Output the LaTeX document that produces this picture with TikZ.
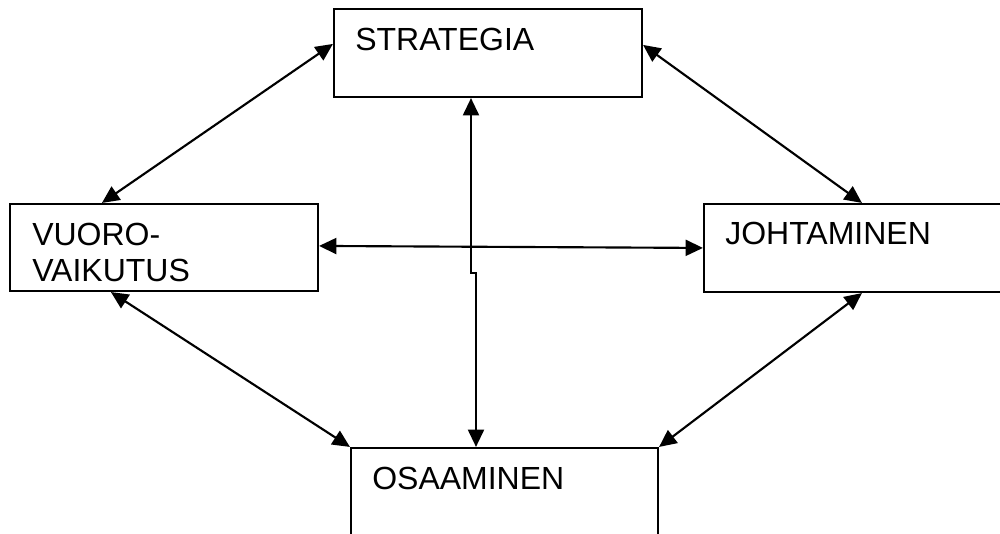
\documentclass[tikz,border=0pt]{standalone}
\usepackage{fontspec}
\setmainfont{Liberation Sans}
\usetikzlibrary{arrows.meta,calc}
\begin{document}
\begin{tikzpicture}[x=0.75pt,y=-0.75pt,
  box/.style={draw,line width=1.6pt,rectangle,inner sep=0pt},
  lbl/.style={anchor=base west,inner sep=0pt,font=\fontsize{24pt}{28pt}\selectfont},
  conn/.style={line width=1.6pt,{Triangle[length=13pt,width=12pt]}-{Triangle[length=13pt,width=12pt]}}]
\useasboundingbox (0,0) rectangle (1000,533);
\clip (0,0) rectangle (1000,533);
\node[box,minimum width=231pt,minimum height=66pt] (S) at (488,53) {};
\node[box,minimum width=231pt,minimum height=65.25pt] (V) at (164,247.5) {};
\node[box,minimum width=229.5pt,minimum height=66pt] (J) at (857,248) {};
\node[box,minimum width=230.25pt,minimum height=91.5pt] (O) at (504.5,509) {};
\node[lbl] (tS) at (355,50) {STRATEGIA};
\node[lbl] (tV1) at (32,245) {VUORO-};
\node[lbl] (tV2) at (32,281) {VAIKUTUS};
\node[lbl] (tJ) at (725,244) {JOHTAMINEN};
\node[lbl] (tO) at (372,489) {OSAAMINEN};
\draw[conn] ($(S.north west)+(0,36)$) -- ($(V.north west)+(93,0)$);
\draw[conn] ($(S.north east)+(0,37)$) -- ($(J.north west)+(159,0)$);
\draw[conn] ($(V.south west)+(102,0)$) -- (O.north west);
\draw[conn] ($(J.south west)+(159,0)$) -- (O.north east);
\draw[conn] ($(V.north east)+(0,43)$) -- ($(J.north west)+(0,45)$);
\coordinate (k1) at ($(S.south)+(-17,175)$);
\coordinate (k2) at ($(S.south)+(-12,175)$);
\draw[conn] ($(S.south)+(-17,0)$) -- (k1) -- (k2) -- ($(O.north)+(-28.5,0)$);
\end{tikzpicture}
\end{document}
